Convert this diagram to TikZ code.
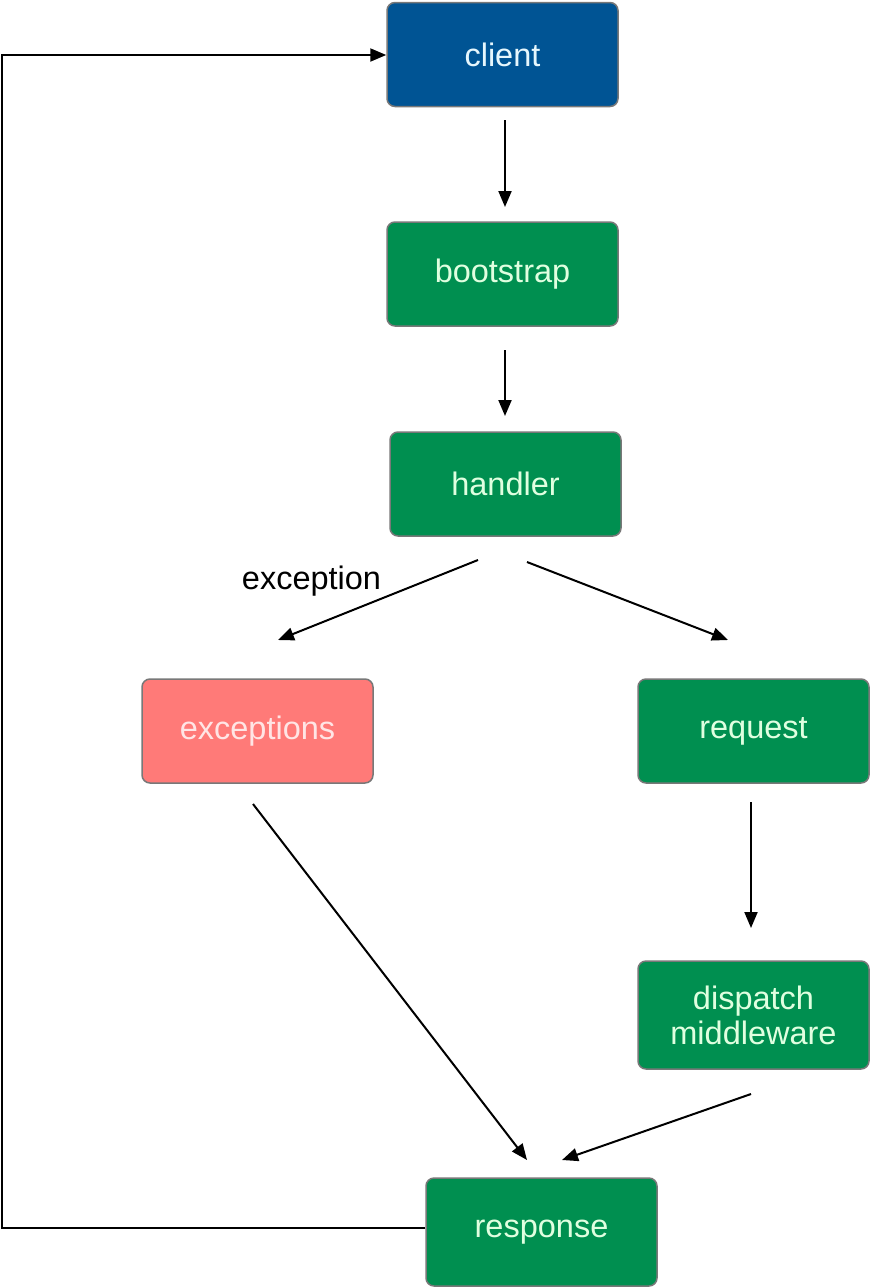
\documentclass[tikz,border=0pt]{standalone}
\usepackage{fontspec}
\setmainfont{Liberation Sans}
\usetikzlibrary{arrows.meta,calc}
\definecolor{cblue}{RGB}{0,84,148}
\definecolor{cgreen}{RGB}{0,143,80}
\definecolor{cred}{RGB}{255,122,120}
\definecolor{cborder}{RGB}{120,120,120}
\begin{document}
\begin{tikzpicture}[x=1pt,y=-1pt,
  box/.style={draw=cborder,line width=1.5pt,rounded corners=8pt,minimum width=231pt,minimum height=104pt,inner sep=0pt,align=center,font=\fontsize{32.5}{36}\selectfont},
  bluebox/.style={box,fill=cblue,text=white!90!cyan},
  greenbox/.style={box,fill=cgreen,text=white!88!green},
  redbox/.style={box,fill=cred,text=white!90!red},
  arr/.style={line width=2pt,-{Triangle[length=16pt,width=13pt]}},
  lbl/.style={font=\fontsize{32.5}{36}\selectfont,inner sep=0pt}]
\useasboundingbox (0,0) rectangle (872,1288);
\node[bluebox] (client) at (502.5,54.5) {client};
\node[greenbox] (bootstrap) at (502.5,274) {bootstrap};
\node[greenbox] (handler) at (505.5,484) {handler};
\node[redbox] (exceptions) at (257.5,731) {exceptions};
\node[greenbox] (request) at (753.5,731) {request};
\node[greenbox,minimum height=108pt] (dispatch) at (753.5,1015) {dispatch\\[-1pt]middleware};
\node[greenbox,minimum height=108pt] (response) at (541.5,1232) {response};
\node[lbl] (exlabel) at (311.5,581) {exception};
% connector end points
\coordinate (c1) at (505,120);
\coordinate (b0) at (505,207);
\coordinate (b1) at (505,350);
\coordinate (h0) at (505,416);
\coordinate (h1) at (478,560);
\coordinate (e0) at (278,640);
\coordinate (h2) at (527,562);
\coordinate (r0) at (728,640);
\coordinate (e1) at (253,804);
\coordinate (s0) at (527,1160);
\coordinate (r1) at (751,802);
\coordinate (d0) at (751,928);
\coordinate (d1) at (751,1094);
\coordinate (s1) at (562,1160);
\coordinate (cornerA) at (2,1228);
\coordinate (cornerB) at (2,55);
\draw[arr] (c1) -- (b0);
\draw[arr] (b1) -- (h0);
\draw[arr] (h1) -- (e0);
\draw[arr] (h2) -- (r0);
\draw[arr] (e1) -- (s0);
\draw[arr] (r1) -- (d0);
\draw[arr] (d1) -- (s1);
\draw[arr] (response.west |- cornerA) -- (cornerA) -- (cornerB) -- (client.west |- cornerB);
\end{tikzpicture}
\end{document}
